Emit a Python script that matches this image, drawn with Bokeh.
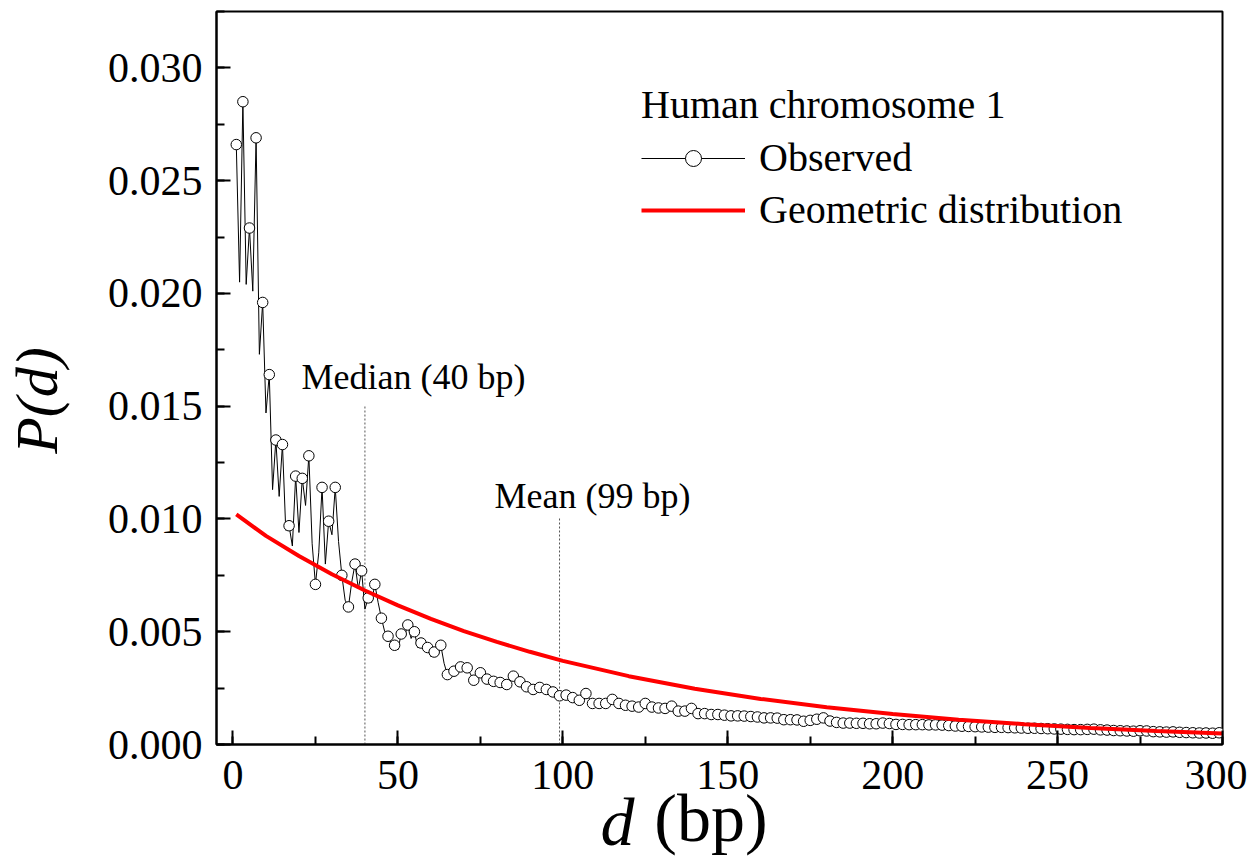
from bokeh.plotting import figure
from bokeh.models import Label, Legend, LegendItem, NumeralTickFormatter, FixedTicker, LinearAxis
from bokeh.embed import file_html
from bokeh.resources import INLINE

# ---------------- data ----------------
# Observed P(d): every d for 1..64, then odd d only (65..299)
obs_d_dense = list(range(1, 65))
obs_p_dense = [
    0.0266, 0.0205, 0.0285, 0.0204, 0.0229, 0.0201, 0.0269, 0.0173,
    0.0196, 0.0147, 0.0164, 0.0113, 0.0135, 0.0110, 0.0133, 0.0095,
    0.0097, 0.0088, 0.0119, 0.0094, 0.0118, 0.0106, 0.0128, 0.0089,
    0.0071, 0.0085, 0.0114, 0.0080, 0.0099, 0.0093, 0.0114, 0.0090,
    0.0075, 0.0064, 0.0061, 0.0072, 0.0080, 0.0069, 0.0077, 0.0060,
    0.0065, 0.0063, 0.0071, 0.0063, 0.0056, 0.0050, 0.0048, 0.0045,
    0.0044, 0.0042, 0.0049, 0.0048, 0.0053, 0.0047, 0.0050, 0.0043,
    0.0045, 0.0044, 0.0043, 0.0039, 0.0041, 0.0041, 0.0044, 0.0036,
]
obs_d_sparse = list(range(65, 300, 2))
obs_p_sparse = [
    0.0031, 0.00325, 0.00344, 0.0034, 0.00285, 0.00318, 0.0029, 0.0028, 0.00275, 0.00266,
    0.00303, 0.00278, 0.00256, 0.00244, 0.00253, 0.00244, 0.00233, 0.00216, 0.00219, 0.00208,
    0.00196, 0.00226, 0.00182, 0.00182, 0.00182, 0.0020, 0.00182, 0.00174, 0.0017, 0.00166,
    0.00182, 0.00166, 0.00162, 0.0016, 0.0017, 0.00148, 0.00148, 0.0016, 0.00137, 0.00137,
    0.00133, 0.00133, 0.0013, 0.00127, 0.00127, 0.00126, 0.00124, 0.00122, 0.00118, 0.00118,
    0.00117, 0.0011, 0.0011, 0.00109, 0.00103, 0.00107, 0.00112, 0.00118, 0.00104, 0.00098,
    0.00095, 0.00095, 0.00094, 0.00094, 0.00092, 0.00092, 0.00095, 0.00093, 0.00089, 0.00089,
    0.00088, 0.00088, 0.00088, 0.00087, 0.00087, 0.00086, 0.00084, 0.00082, 0.00081, 0.0008,
    0.00079, 0.00078, 0.00077, 0.00076, 0.00076, 0.00075, 0.00074, 0.00073, 0.00072, 0.00072,
    0.00071, 0.0007, 0.00069, 0.00068, 0.00067, 0.00066, 0.00066, 0.00067, 0.00068, 0.00065,
    0.00064, 0.00062, 0.00061, 0.0006, 0.00059, 0.00061, 0.0006, 0.00057, 0.00056, 0.00055,
    0.00056, 0.00054, 0.00053, 0.00052, 0.00051, 0.00051, 0.0005, 0.00052,
]

# Geometric distribution curve
geo_d = [1, 10, 20, 30, 40, 50, 60, 70, 80, 90, 100, 120, 140, 160, 180,
         200, 220, 240, 260, 280, 300]
geo_p = [0.0102, 0.00925, 0.00836, 0.00755, 0.00683, 0.00617, 0.00557, 0.00503,
         0.00455, 0.00411, 0.00371, 0.00303, 0.00247, 0.00202, 0.00165,
         0.00135, 0.00110, 0.00090, 0.00073, 0.00060, 0.00049]

median_d = 40
mean_d = 99
marker_tops = [0.0150, 0.0101]

x_ticks = [0, 50, 100, 150, 200, 250, 300]
y_ticks = [0.000, 0.005, 0.010, 0.015, 0.020, 0.025, 0.030]

# ---------------- figure ----------------
FONT = "Liberation Serif"
NB = "\u00a0"

obs_d = obs_d_dense + obs_d_sparse
obs_p = obs_p_dense + obs_p_sparse
mk_d = [d for d in obs_d if d % 2 == 1]
mk_p = [p for d, p in zip(obs_d, obs_p) if d % 2 == 1]

p = figure(frame_width=1006, frame_height=733, x_range=(-5, 300), y_range=(0, 0.0325),
           output_backend="svg", toolbar_location=None,
           min_border_left=216, min_border_right=25, min_border_top=11,
           min_border_bottom=100)
p.background_fill_color = "white"
p.border_fill_color = "white"
p.outline_line_color = "black"
p.outline_line_width = 2
p.xgrid.visible = False
p.ygrid.visible = False

for ax in (p.xaxis[0], p.yaxis[0]):
    ax.axis_line_width = 2
    ax.major_tick_line_width = 2
    ax.minor_tick_line_width = 2
    ax.major_tick_out = 0
    ax.minor_tick_out = 0
    ax.major_tick_in = 14
    ax.minor_tick_in = 8
    ax.major_label_text_font = FONT
    ax.major_label_text_font_size = "42px"
    ax.major_label_text_color = "black"
    ax.axis_label_text_font = FONT
    ax.axis_label_text_color = "black"

p.xaxis.ticker = FixedTicker(ticks=x_ticks, minor_ticks=list(range(-25, 326, 25)))
p.yaxis.ticker = FixedTicker(ticks=y_ticks,
                             minor_ticks=[i * 0.0025 for i in range(0, 14)])
p.yaxis.formatter = NumeralTickFormatter(format="0.000")
p.xaxis.major_label_standoff = 16
p.yaxis.major_label_standoff = 14

# y title: P(d), italic
p.yaxis.axis_label = "P(d)" + NB * 3
p.yaxis.axis_label_text_font_size = "60px"
p.yaxis.axis_label_text_font_style = "italic"
p.yaxis.axis_label_standoff = 35

# x title: italic "d" (extra axis) + upright "(bp)" on the same line
TFS = "68px"
p.xaxis.axis_label = NB * 3 + "(bp)" + NB * 4
p.xaxis.axis_label_text_font_size = TFS
p.xaxis.axis_label_text_font_style = "normal"
p.xaxis.axis_label_standoff = -12

ax_d = LinearAxis(ticker=FixedTicker(ticks=[]), axis_label="d" + NB * 8 + NB * 4,
                  axis_label_text_font=FONT, axis_label_text_font_size=TFS,
                  axis_label_text_font_style="italic", axis_label_text_color="black",
                  axis_line_color=None, major_tick_line_color=None,
                  minor_tick_line_color=None, major_tick_out=0, major_tick_in=0,
                  minor_tick_out=0, minor_tick_in=0, major_label_standoff=0,
                  axis_label_standoff=-75)
p.add_layout(ax_d, "below")

# dotted marker lines
p.segment(x0=[median_d, mean_d], y0=[0, 0], x1=[median_d, mean_d], y1=marker_tops,
          line_color="#555555", line_width=1, line_dash="2 2")

# observed
r_obs_line = p.line(obs_d, obs_p, line_color="black", line_width=1)
r_obs_pts = p.scatter(mk_d, mk_p, marker="circle", size=10.5, fill_color="white",
                      line_color="black", line_width=1)

# geometric curve (drawn on top)
r_geo = p.line(geo_d, geo_p, line_color="#FF0000", line_width=4)

# annotations
p.add_layout(Label(x=20.8, y=0.01631, text="Median (40 bp)", text_font=FONT,
                   text_font_size="36px", text_baseline="middle", text_align="left",
                   text_color="black"))
p.add_layout(Label(x=79.3, y=0.01104, text="Mean (99 bp)", text_font=FONT,
                   text_font_size="36px", text_baseline="middle", text_align="left",
                   text_color="black"))

# legend
legend = Legend(items=[
    LegendItem(label="Observed", renderers=[r_obs_line, r_obs_pts]),
    LegendItem(label="Geometric distribution", renderers=[r_geo]),
], location=(425, 511))
legend.title = "Human chromosome 1"
legend.title_text_font = FONT
legend.title_text_font_size = "40px"
legend.title_text_font_style = "normal"
legend.title_text_color = "black"
legend.title_standoff = 6
legend.label_text_font = FONT
legend.label_text_font_size = "40px"
legend.label_text_color = "black"
legend.glyph_width = 104
legend.glyph_height = 40
legend.label_height = 40
legend.label_standoff = 14
legend.spacing = 5
legend.padding = 0
legend.margin = 0
legend.border_line_alpha = 0
legend.background_fill_alpha = 0
p.add_layout(legend, "center")

open("out.html", "w").write(file_html(p, INLINE))
